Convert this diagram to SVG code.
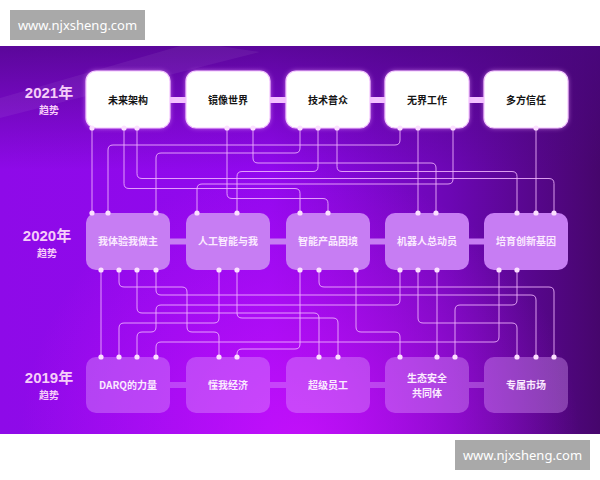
<svg xmlns="http://www.w3.org/2000/svg" width="600" height="480" viewBox="0 0 600 480">
<style>
.wm{fill:#a9a9a9}
.wmt{font-family:"Noto Sans","Liberation Sans",sans-serif;font-size:13px;fill:#ffffff;text-anchor:middle}
.yr{font-family:"Liberation Sans","Noto Sans CJK SC",sans-serif;font-weight:bold;font-size:15px;fill:#f6cdf9;text-anchor:middle}
.ys{font-family:"Noto Sans CJK SC",sans-serif;font-weight:bold;font-size:10px;fill:#f6cdf9;text-anchor:middle}
.b1{fill:#ffffff;stroke:#f3c4ff;stroke-width:1.2}
.b2{fill:#c77df3}
.b3{fill:#e2a6ff;fill-opacity:0.36}
.t1{font-family:"Noto Sans CJK SC",sans-serif;font-weight:bold;font-size:10px;fill:#151515;text-anchor:middle}
.t2{font-family:"Noto Sans CJK SC",sans-serif;font-weight:bold;font-size:10px;fill:#fbeaff;text-anchor:middle}
.c path{fill:none;stroke:#f2b6ff;stroke-width:1;stroke-opacity:0.85}
.p circle{fill:#fbe0ff}
</style>
<defs>
<linearGradient id="bg" x1="0" y1="0" x2="1" y2="0">
<stop offset="0" stop-color="#8e0ae8"/>
<stop offset="0.45" stop-color="#9108ee"/>
<stop offset="0.75" stop-color="#6c07b4"/>
<stop offset="1" stop-color="#46066c"/>
</linearGradient>
<radialGradient id="mg" cx="300" cy="445" r="280" gradientUnits="userSpaceOnUse">
<stop offset="0" stop-color="#d012ff" stop-opacity="0.8"/>
<stop offset="1" stop-color="#d012ff" stop-opacity="0"/>
</radialGradient>
<linearGradient id="top" x1="0" y1="46" x2="0" y2="170" gradientUnits="userSpaceOnUse">
<stop offset="0" stop-color="#4a0680" stop-opacity="0.75"/>
<stop offset="1" stop-color="#4a0680" stop-opacity="0"/>
</linearGradient>
<filter id="glow" x="-20%" y="-20%" width="140%" height="140%">
<feGaussianBlur stdDeviation="2.5"/>
</filter>
</defs>
<rect x="0" y="0" width="600" height="480" fill="#ffffff"/>
<rect x="0" y="46" width="600" height="388" fill="url(#bg)"/>
<rect x="0" y="46" width="600" height="388" fill="url(#mg)"/>
<rect x="0" y="46" width="600" height="388" fill="url(#top)"/>
<polygon points="0,98 0,118 260,52 220,46 180,46" fill="#ffffff" fill-opacity="0.06"/>

<g id="watermark-top"><rect class="wm" x="10" y="10" width="135" height="30"/><text class="wmt" x="77.5" y="29.5">www.njxsheng.com</text></g>
<g id="watermark-bottom"><rect class="wm" x="455" y="440" width="135" height="30"/><text class="wmt" x="522.5" y="459.5">www.njxsheng.com</text></g>

<g id="year-labels">
<text class="yr" x="49" y="98">2021年</text><text class="ys" x="49" y="114">趋势</text>
<text class="yr" x="47" y="241">2020年</text><text class="ys" x="47" y="257">趋势</text>
<text class="yr" x="49" y="383">2019年</text><text class="ys" x="49" y="399">趋势</text>
</g>

<g id="bars">
<path d="M170 97h16v6h-16zM270 97h16v6h-16zM370 97h15v6h-15zM469 97h15v6h-15z" fill="#f4c2ff"/>
<path d="M170 238.5h16v6h-16zM270 238.5h16v6h-16zM370 238.5h15v6h-15zM469 238.5h15v6h-15z" fill="#c77df3"/>
<path d="M170 382h16v6h-16zM270 382h16v6h-16zM370 382h15v6h-15zM469 382h15v6h-15z" fill="#e2a6ff" fill-opacity="0.36"/>
</g>

<g class="c" id="connectors">
<path d="M92 128V213"/>
<path d="M418 128V213"/>
<path d="M536 128V213"/>
<path d="M400 128V140Q400 145 395 145H113Q108 145 108 150V213"/>
<path d="M300 128V148Q300 153 295 153H161Q156 153 156 158V213"/>
<path d="M253 128V158Q253 163 258 163H431Q436 163 436 168V213"/>
<path d="M318 128V166.5Q318 171.5 313 171.5H242Q237 171.5 237 176.5V213"/>
<path d="M337 128V166.5Q337 171.5 342 171.5H512Q517 171.5 517 176.5V213"/>
<path d="M137 128V173.5Q137 178.5 142 178.5H549Q554 178.5 554 183.5V213"/>
<path d="M453 128V179Q453 184 448 184H202Q197 184 197 189V213"/>
<path d="M124 128V183.5Q124 188.5 129 188.5H295Q300 188.5 300 193.5V213"/>
<path d="M227 128V193.5Q227 198.5 232 198.5H323Q328 198.5 328 203.5V213"/>

<path d="M101 270V357"/>
<path d="M437 270V357"/>
<path d="M119 270V282Q119 287 124 287H182Q187 287 187 292V327Q187 332 192 332H214Q219 332 219 337V357"/>
<path d="M319 270V282Q319 287 324 287H549Q554 287 554 292V357"/>
<path d="M156 270V290Q156 295 161 295H531Q536 295 536 300V357"/>
<path d="M400 270V300Q400 305 395 305H161Q156 305 156 310V327Q156 332 151 332H142Q137 332 137 337V357"/>
<path d="M517 270V300Q517 305 512 305H460Q455 305 455 310V357"/>
<path d="M137 270V308Q137 313 142 313H314Q319 313 319 318V357"/>
<path d="M237 270V313Q237 318 242 318H333Q338 318 338 323V357"/>
<path d="M219 270V318Q219 323 214 323H124Q119 323 119 328V357"/>
<path d="M418 270V318Q418 323 423 323H512Q517 323 517 328V357"/>
<path d="M356 270V327Q356 332 361 332H395Q400 332 400 337V357"/>
<path d="M499 270V337Q499 342 494 342H161Q156 342 156 347V357"/>
<path d="M300 270V344Q300 349 295 349H242Q237 349 237 354V357"/>
</g>

<g id="glow-2021" filter="url(#glow)" opacity="0.7">
<rect x="86" y="71" width="84" height="57" rx="10" fill="#f0a8ff"/>
<rect x="186" y="71" width="84" height="57" rx="10" fill="#f0a8ff"/>
<rect x="286" y="71" width="84" height="57" rx="10" fill="#f0a8ff"/>
<rect x="385" y="71" width="84" height="57" rx="10" fill="#f0a8ff"/>
<rect x="484" y="71" width="84" height="57" rx="10" fill="#f0a8ff"/>
</g>

<g id="n2021-1"><rect class="b1" x="86" y="71" width="84" height="57" rx="10"/><text class="t1" x="128" y="103.5">未来架构</text></g>
<g id="n2021-2"><rect class="b1" x="186" y="71" width="84" height="57" rx="10"/><text class="t1" x="228" y="103.5">镜像世界</text></g>
<g id="n2021-3"><rect class="b1" x="286" y="71" width="84" height="57" rx="10"/><text class="t1" x="328" y="103.5">技术普众</text></g>
<g id="n2021-4"><rect class="b1" x="385" y="71" width="84" height="57" rx="10"/><text class="t1" x="427" y="103.5">无界工作</text></g>
<g id="n2021-5"><rect class="b1" x="484" y="71" width="84" height="57" rx="10"/><text class="t1" x="526" y="103.5">多方信任</text></g>

<g id="n2020-1"><rect class="b2" x="86" y="213" width="84" height="57" rx="10"/><text class="t2" x="128" y="245">我体验我做主</text></g>
<g id="n2020-2"><rect class="b2" x="186" y="213" width="84" height="57" rx="10"/><text class="t2" x="228" y="245">人工智能与我</text></g>
<g id="n2020-3"><rect class="b2" x="286" y="213" width="84" height="57" rx="10"/><text class="t2" x="328" y="245">智能产品困境</text></g>
<g id="n2020-4"><rect class="b2" x="385" y="213" width="84" height="57" rx="10"/><text class="t2" x="427" y="245">机器人总动员</text></g>
<g id="n2020-5"><rect class="b2" x="484" y="213" width="84" height="57" rx="10"/><text class="t2" x="526" y="245">培育创新基因</text></g>

<g id="n2019-1"><rect class="b3" x="86" y="357" width="84" height="56" rx="10"/><text class="t2" x="128" y="389">DARQ的力量</text></g>
<g id="n2019-2"><rect class="b3" x="186" y="357" width="84" height="56" rx="10"/><text class="t2" x="228" y="389">懂我经济</text></g>
<g id="n2019-3"><rect class="b3" x="286" y="357" width="84" height="56" rx="10"/><text class="t2" x="328" y="389">超级员工</text></g>
<g id="n2019-4"><rect class="b3" x="385" y="357" width="84" height="56" rx="10"/><text class="t2" x="427" y="381.5">生态安全</text><text class="t2" x="427" y="396.5">共同体</text></g>
<g id="n2019-5"><rect class="b3" x="484" y="357" width="84" height="56" rx="10"/><text class="t2" x="526" y="389">专属市场</text></g>

<g class="p" id="pins">
<circle cx="92" cy="128" r="2.6"/><circle cx="124" cy="128" r="2.6"/><circle cx="137" cy="128" r="2.6"/><circle cx="227" cy="128" r="2.6"/><circle cx="253" cy="128" r="2.6"/><circle cx="300" cy="128" r="2.6"/><circle cx="318" cy="128" r="2.6"/><circle cx="337" cy="128" r="2.6"/><circle cx="400" cy="128" r="2.6"/><circle cx="418" cy="128" r="2.6"/><circle cx="453" cy="128" r="2.6"/><circle cx="536" cy="128" r="2.6"/>
<circle cx="92" cy="213" r="2.6"/><circle cx="108" cy="213" r="2.6"/><circle cx="156" cy="213" r="2.6"/><circle cx="197" cy="213" r="2.6"/><circle cx="237" cy="213" r="2.6"/><circle cx="300" cy="213" r="2.6"/><circle cx="328" cy="213" r="2.6"/><circle cx="418" cy="213" r="2.6"/><circle cx="436" cy="213" r="2.6"/><circle cx="517" cy="213" r="2.6"/><circle cx="536" cy="213" r="2.6"/><circle cx="554" cy="213" r="2.6"/>
<circle cx="101" cy="270" r="2.6"/><circle cx="119" cy="270" r="2.6"/><circle cx="137" cy="270" r="2.6"/><circle cx="156" cy="270" r="2.6"/><circle cx="219" cy="270" r="2.6"/><circle cx="237" cy="270" r="2.6"/><circle cx="300" cy="270" r="2.6"/><circle cx="319" cy="270" r="2.6"/><circle cx="356" cy="270" r="2.6"/><circle cx="400" cy="270" r="2.6"/><circle cx="418" cy="270" r="2.6"/><circle cx="437" cy="270" r="2.6"/><circle cx="499" cy="270" r="2.6"/><circle cx="517" cy="270" r="2.6"/>
<circle cx="101" cy="357" r="2.6"/><circle cx="119" cy="357" r="2.6"/><circle cx="137" cy="357" r="2.6"/><circle cx="156" cy="357" r="2.6"/><circle cx="219" cy="357" r="2.6"/><circle cx="237" cy="357" r="2.6"/><circle cx="319" cy="357" r="2.6"/><circle cx="338" cy="357" r="2.6"/><circle cx="400" cy="357" r="2.6"/><circle cx="437" cy="357" r="2.6"/><circle cx="455" cy="357" r="2.6"/><circle cx="517" cy="357" r="2.6"/><circle cx="536" cy="357" r="2.6"/><circle cx="554" cy="357" r="2.6"/>
</g>
</svg>
